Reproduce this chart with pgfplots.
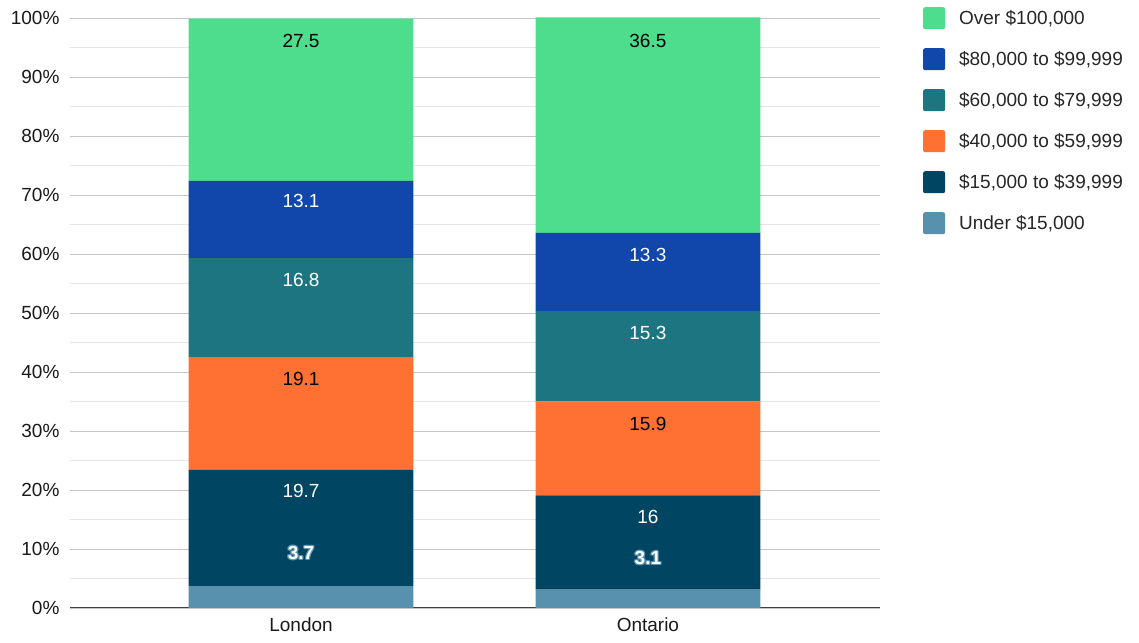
\documentclass[border=0pt]{standalone}
\usepackage{pgfplots}
\pgfplotsset{compat=1.18}
\usepackage{fontspec}
\setmainfont{Liberation Sans}
\definecolor{cA}{HTML}{5891AD}
\definecolor{cB}{HTML}{004561}
\definecolor{cC}{HTML}{FF7033}
\definecolor{cD}{HTML}{1E7582}
\definecolor{cE}{HTML}{1146AA}
\definecolor{cF}{HTML}{4EDD8C}
\newcommand{\fs}{\fontsize{19}{22}\selectfont}
\newcommand{\ol}[5]{\node[font=\fs\bfseries, text=cA, xshift=#1pt, yshift=#2pt] at (axis cs:#3,#4) {#5};}
\newcommand{\outl}[3]{%
  \ol{1.2}{0}{#1}{#2}{#3}\ol{-1.2}{0}{#1}{#2}{#3}\ol{0}{1.2}{#1}{#2}{#3}\ol{0}{-1.2}{#1}{#2}{#3}%
  \ol{0.85}{0.85}{#1}{#2}{#3}\ol{-0.85}{0.85}{#1}{#2}{#3}\ol{0.85}{-0.85}{#1}{#2}{#3}\ol{-0.85}{-0.85}{#1}{#2}{#3}%
  \node[font=\fs\bfseries, text=white] at (axis cs:#1,#2) {#3};}
\newcommand{\datalabels}{%
\node[font=\fs, text=black] at (axis cs:0,96.1) {27.5};
\node[font=\fs, text=white] at (axis cs:0,69.0) {13.1};
\node[font=\fs, text=white] at (axis cs:0,55.6) {16.8};
\node[font=\fs, text=black] at (axis cs:0,38.8) {19.1};
\node[font=\fs, text=white] at (axis cs:0,19.8) {19.7};
\outl{0}{9.3}{3.7}
\node[font=\fs, text=black] at (axis cs:1,96.1) {36.5};
\node[font=\fs, text=white] at (axis cs:1,59.8) {13.3};
\node[font=\fs, text=white] at (axis cs:1,46.6) {15.3};
\node[font=\fs, text=black] at (axis cs:1,31.2) {15.9};
\node[font=\fs, text=white] at (axis cs:1,15.4) {16};
\outl{1}{8.5}{3.1}}
\begin{document}
\begin{tikzpicture}
\begin{axis}[
  scale only axis, width=810pt, height=590pt,
  ybar stacked, bar width=0.648,
  xmin=-0.666, xmax=1.669, ymin=0, ymax=100,
  clip=false,
  xtick={0,1}, xticklabels={London,Ontario},
  ytick={0,10,...,100}, minor ytick={5,15,...,95},
  yticklabel={\pgfmathparse{int(\tick)}\pgfmathresult\%},
  ticklabel style={font=\fs, text=black!90},
  yticklabel style={xshift=-7pt},
  xticklabel style={yshift=-6pt},
  major tick length=0pt, minor tick length=0pt,
  ymajorgrids, yminorgrids,
  major grid style={draw=black!22, line width=0.9pt},
  minor grid style={draw=black!10, line width=0.9pt},
  axis x line*=bottom, axis y line*=left,
  x axis line style={draw=black!75, line width=1pt},
  y axis line style={draw=none},
  reverse legend,
  legend style={at={(1.0493,1.022)}, anchor=north west, draw=none, fill=none,
    font=\fs, text=black!85, row sep=19pt,
    nodes={inner sep=0pt, text height=14pt, text depth=4pt},
    /tikz/every odd column/.append style={column sep=14pt}},
  legend cell align=left,
  sq/.style={legend image code/.code={\path[##1, rounded corners=2pt] (0pt,-10pt) rectangle (22pt,12pt);}},
  after end axis/.code={\datalabels},
]
\addplot[fill=cA, draw=none, sq] coordinates {(0,3.7) (1,3.1)};
\addlegendentry{Under \$15,000}
\addplot[fill=cB, draw=none, sq] coordinates {(0,19.7) (1,16)};
\addlegendentry{\$15,000 to \$39,999}
\addplot[fill=cC, draw=none, sq] coordinates {(0,19.1) (1,15.9)};
\addlegendentry{\$40,000 to \$59,999}
\addplot[fill=cD, draw=none, sq] coordinates {(0,16.8) (1,15.3)};
\addlegendentry{\$60,000 to \$79,999}
\addplot[fill=cE, draw=none, sq] coordinates {(0,13.1) (1,13.3)};
\addlegendentry{\$80,000 to \$99,999}
\addplot[fill=cF, draw=none, sq] coordinates {(0,27.5) (1,36.5)};
\addlegendentry{Over \$100,000}
\path (rel axis cs:-0.0864,-0.0593) rectangle (rel axis cs:1.3198,1.0305);
\end{axis}
\end{tikzpicture}
\end{document}
